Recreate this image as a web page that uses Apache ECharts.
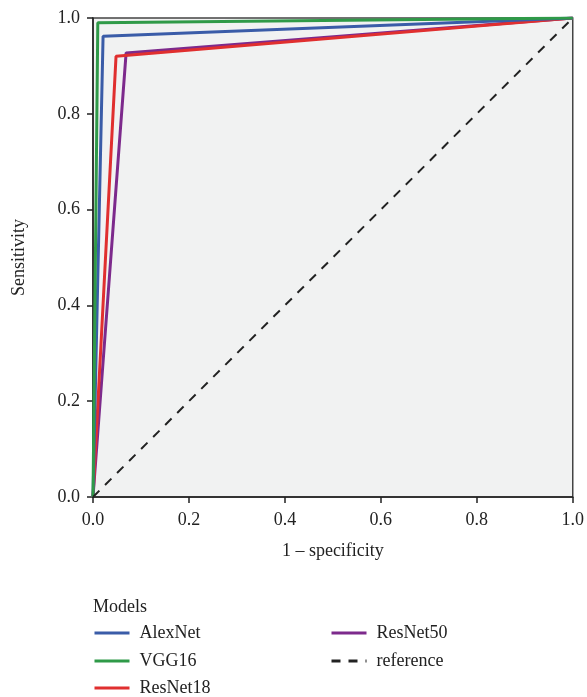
<!DOCTYPE html>
<html><head><meta charset="utf-8">
<script src="https://cdn.jsdelivr.net/npm/echarts@6/dist/echarts.min.js"></script>
<style>html,body{margin:0;padding:0;background:#fff}#c{width:587px;height:697px}</style>
</head><body><div id="c"></div>
<script>
const seriesNames = ['AlexNet','VGG16','ResNet18','ResNet50','reference'];
const alexnet = [[0,0],[0.021,0.962],[1,1]];
const vgg16 = [[0,0],[0.010,0.990],[1,1]];
const resnet18 = [[0,0],[0.048,0.920],[1,1]];
const resnet50 = [[0,0],[0.069,0.927],[1,1]];
const reference = [[0,0],[1,1]];
const colors = ['#3a5ca8','#2f9a48','#e02f2f','#7d2a8c','#222222'];
const font = 'Liberation Serif';
const chart = echarts.init(document.getElementById('c'));
const dataAll = [alexnet, vgg16, resnet18, resnet50, reference];
const order = [3,2,0,1,4];
const legendPos = [[93,624],[93,652],[93,679],[330,624],[330,652]];
const legends = seriesNames.map((n,i)=>({
  data:[n],left:legendPos[i][0],top:legendPos[i][1],padding:0,itemWidth:35,itemHeight:14,
  itemStyle:{opacity:0},lineStyle:{width:3},
  textStyle:{fontFamily:font,fontSize:18,lineHeight:16,color:'#222',padding:[0,0,0,5]}
}));
chart.setOption({
  animation:false,
  textStyle:{fontFamily:font},
  title:{text:'Models',left:88,top:593,textStyle:{fontFamily:font,fontSize:18,fontWeight:'normal',color:'#222'}},
  grid:{left:93,right:14,top:18,bottom:200,show:true,backgroundColor:'#f1f2f2',borderColor:'#444',borderWidth:1.5},
  legend:legends,
  xAxis:{type:'value',min:0,max:1,interval:0.2,name:'1 – specificity',nameLocation:'middle',nameGap:45,
    nameTextStyle:{fontFamily:font,fontSize:18,color:'#222'},
    axisLine:{show:true,lineStyle:{color:'#222',width:1.5}},
    axisTick:{show:true,length:6,lineStyle:{color:'#222',width:1.5}},
    axisLabel:{fontFamily:font,fontSize:18,color:'#222',margin:14,formatter:v=>v.toFixed(1)},
    splitLine:{show:false}},
  yAxis:{type:'value',min:0,max:1,interval:0.2,name:'Sensitivity',nameLocation:'middle',nameGap:65,
    nameTextStyle:{fontFamily:font,fontSize:18,color:'#222'},
    axisLine:{show:true,lineStyle:{color:'#222',width:1.5}},
    axisTick:{show:true,length:6,lineStyle:{color:'#222',width:1.5}},
    axisLabel:{fontFamily:font,fontSize:18,color:'#222',margin:13,formatter:v=>v.toFixed(1)},
    splitLine:{show:false}},
  series: order.map(i=>({
    name:seriesNames[i],type:'line',data:dataAll[i],symbol:'none',z:i===4?5:3,
    color:colors[i],
    lineStyle:{color:colors[i],width:i===4?2:3,type:i===4?[9,8]:'solid'}
  }))
});
</script></body></html>
